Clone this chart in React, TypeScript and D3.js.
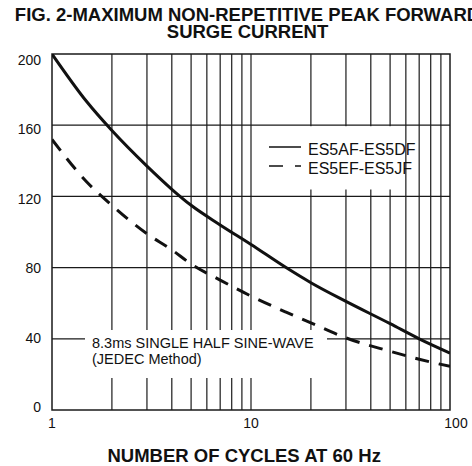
import React, { useEffect } from "react";
import * as d3 from "d3";

const cycles = [1, 1.5, 2, 3, 4, 5, 7, 10, 15, 20, 30, 50, 70, 100];
const es5afDf = [200, 173, 157, 137, 124, 115, 104, 93, 80, 71.5, 61, 48.5, 40, 32];
const es5efJf = [152, 128, 115, 99, 90, 82, 73, 64, 55, 49, 40.5, 33, 28.5, 24.5];
const yTicks = [0, 40, 80, 120, 160, 200];
const xTickLabels = [1, 10, 100];
const gridCycles = [2, 3, 4, 5, 6, 7, 8, 9, 10, 20, 30, 40, 50, 60, 70, 80, 90];
const seriesNames = ["ES5AF-ES5DF", "ES5EF-ES5JF"];
const titleLines = ["FIG. 2-MAXIMUM NON-REPETITIVE PEAK FORWARD", "SURGE CURRENT"];
const xTitle = "NUMBER OF CYCLES AT 60 Hz";
const noteLines = ["8.3ms SINGLE HALF SINE-WAVE", "(JEDEC Method)"];

const W = 472;
const H = 466;
const L = 52, R = 450, T = 54, B = 410;
const FONT = "'Liberation Sans', Arial, Helvetica, sans-serif";
const INK = "#1a1a1a";

export default function App() {
  useEffect(() => {
    document.body.style.margin = "0";
  }, []);

  const x = d3.scaleLog().domain([1, 100]).range([L, R]);
  const y = d3.scaleLinear().domain([0, 200]).range([B, T]);
  const yLab = d3.scaleLinear().domain([0, 200]).range([407, 59.7]);

  const line = d3
    .line<number>()
    .x((_, i) => x(cycles[i]))
    .y((d) => y(d))
    .curve(d3.curveMonotoneX);

  return (
    <svg width={W} height={H} style={{ display: "block", background: "#fff" }} fontFamily={FONT}>
      <defs>
        <clipPath id="plot">
          <rect x={L} y={T} width={R - L} height={B - T} />
        </clipPath>
      </defs>
      <rect x={0} y={0} width={W} height={H} fill="#fff" />

      {/* grid */}
      {gridCycles.map((c) => (
        <line key={"v" + c} x1={x(c)} x2={x(c)} y1={T} y2={B} stroke={INK} strokeWidth={1.2} />
      ))}
      {yTicks
        .filter((v) => v > 0 && v < 200)
        .map((v) => (
          <line key={"h" + v} x1={L} x2={R} y1={y(v)} y2={y(v)} stroke={INK} strokeWidth={1.2} />
        ))}

      {/* legend mask */}
      <rect x={256} y={y(160) + 1} width={144} height={189.5 - y(160) - 1} fill="#fff" />
      {/* annotation mask */}
      <rect x={85} y={330} width={242} height={48} fill="#fff" />

      {/* border */}
      <rect x={L} y={T} width={R - L} height={B - T} fill="none" stroke={INK} strokeWidth={1.5} />

      {/* curves */}
      <g clipPath="url(#plot)">
        <path d={line(es5afDf) || ""} fill="none" stroke="#111" strokeWidth={3} />
        <path
          d={line(es5efJf) || ""}
          fill="none"
          stroke="#111"
          strokeWidth={3}
          strokeDasharray="14 10"
        />
      </g>

      {/* legend */}
      <line x1={269} x2={301} y1={147} y2={147} stroke="#111" strokeWidth={1.5} />
      <text x={308} y={155} fontSize={16} fill="#111">
        {seriesNames[0]}
      </text>
      <line x1={269} x2={301} y1={166} y2={166} stroke="#111" strokeWidth={1.5} strokeDasharray="14 12" />
      <text x={308} y={174} fontSize={16} fill="#111">
        {seriesNames[1]}
      </text>

      {/* annotation */}
      <text x={92} y={347.7} fontSize={14.5} fill="#111">
        {noteLines[0]}
      </text>
      <text x={92} y={364} fontSize={14.5} fill="#111">
        {noteLines[1]}
      </text>

      {/* y tick labels */}
      {yTicks.map((v) => (
        <text key={"yl" + v} x={41} y={yLab(v) + 5} fontSize={14} textAnchor="end" fill="#111">
          {v}
        </text>
      ))}

      {/* x tick labels */}
      {xTickLabels.map((v, i) => (
        <text
          key={"xl" + v}
          x={x(v) + (i === xTickLabels.length - 1 ? 6 : 0)}
          y={428}
          fontSize={14}
          textAnchor="middle"
          fill="#111"
        >
          {v}
        </text>
      ))}

      {/* titles */}
      <text x={247.5} y={20.7} fontSize={18.5} fontWeight="bold" textAnchor="middle" fill="#111">
        {titleLines[0]}
      </text>
      <text x={247.5} y={38.3} fontSize={18.5} fontWeight="bold" textAnchor="middle" fill="#111">
        {titleLines[1]}
      </text>
      <text x={244.2} y={461.5} fontSize={18.5} fontWeight="bold" textAnchor="middle" fill="#111">
        {xTitle}
      </text>
    </svg>
  );
}
